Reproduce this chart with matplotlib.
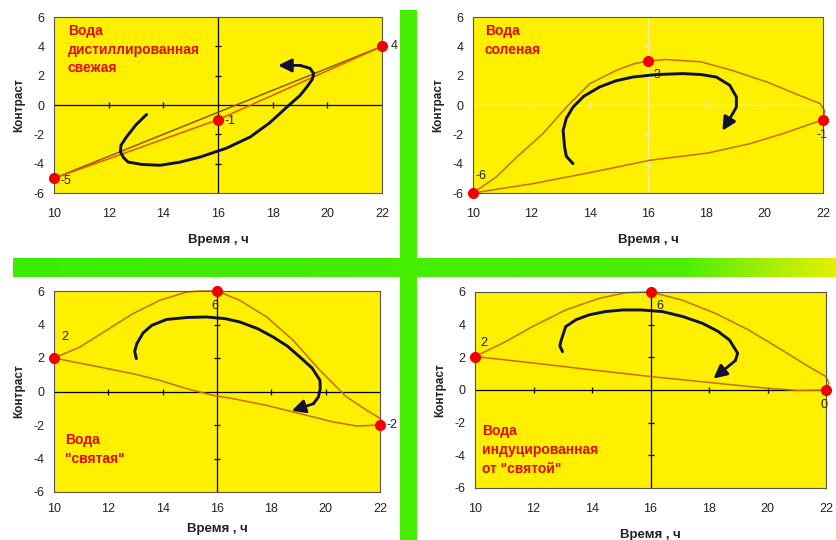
import numpy as np
import matplotlib
matplotlib.use("Agg")
import matplotlib.pyplot as plt
from matplotlib.colors import LinearSegmentedColormap

plt.rcParams['font.family'] = ['Liberation Sans', 'DejaVu Sans']

# ---------------- data ----------------
x_ticks = [10, 12, 14, 16, 18, 20, 22]
y_ticks = [-6, -4, -2, 0, 2, 4, 6]
xlabel_text = "Время , ч"
ylabel_text = "Контраст"

# Panel 1: distilled fresh water
p1_title = "Вода\nдистиллированная\nсвежая"
p1_pts_x = [10, 16, 22]
p1_pts_y = [-5, -1, 4]
p1_pts_lab = ["-5", "-1", "4"]
p1_curve_a_x = [10, 16, 22]
p1_curve_a_y = [-5, -1, 4]
p1_curve_b_x = [10, 22]
p1_curve_b_y = [-5, 4]
p1_arrow_x = [13.39, 13.0, 12.65, 12.45, 12.43, 12.55, 12.71, 13.2, 13.88, 14.6, 15.34, 16.3,
              17.18, 17.9, 18.52, 19.0, 19.25, 19.45, 19.5, 19.37, 19.0]
p1_arrow_y = [-0.64, -1.35, -2.18, -2.75, -3.2, -3.6, -3.89, -4.05, -4.11, -3.9, -3.55, -2.95,
              -2.18, -1.2, -0.14, 0.65, 1.23, 1.75, 2.14, 2.5, 2.7]
p1_arrow_tip = (18.2, 2.7)

# Panel 2: salted water
p2_title = "Вода\nсоленая"
p2_pts_x = [10, 16, 22]
p2_pts_y = [-6, 3, -1]
p2_pts_lab = ["-6", "3", "-1"]
p2_curve_x = [10, 10.8, 11.5, 12.4, 13.2, 14.0, 14.9, 15.5, 16.0, 16.6, 17.8, 18.9, 20.1, 21.2,
              21.9, 22.06, 22.0, 20.63, 19.49, 18.06, 16.06, 14.11, 12.06, 10]
p2_curve_y = [-6, -4.9, -3.55, -1.95, -0.15, 1.45, 2.35, 2.8, 3.0, 3.1, 2.95, 2.35, 1.55, 0.65,
              0.1, -0.4, -1.0, -1.95, -2.64, -3.27, -3.77, -4.57, -5.36, -6]
p2_arrow_x = [13.43, 13.2, 13.14, 13.09, 13.2, 13.43, 13.8, 14.34, 14.9, 15.49, 16.3, 17.2, 17.8,
              18.34, 18.8, 19.03, 19.03, 18.9]
p2_arrow_y = [-4.0, -3.5, -2.86, -1.73, -0.9, -0.14, 0.6, 1.23, 1.65, 1.91, 2.08, 2.14, 2.08,
              1.91, 1.35, 0.55, -0.14, -0.6]
p2_arrow_tip = (18.55, -1.75)

# Panel 3: "holy" water
p3_title = "Вода\n\"святая\""
p3_pts_x = [10, 16, 22]
p3_pts_y = [2, 6, -2]
p3_pts_lab = ["2", "6", "-2"]
p3_curve_x = [10, 10.95, 11.93, 12.91, 13.89, 14.88, 15.37, 16.0, 16.84, 17.83, 18.81, 19.79,
              20.77, 21.51, 22.0, 22.15, 22.0, 21.14, 20.28, 19.05, 17.83, 16.6, 15.86, 14.88,
              13.89, 12.91, 11.68, 10]
p3_curve_y = [2.0, 2.65, 3.65, 4.65, 5.44, 5.94, 6.0, 6.0, 5.44, 4.45, 3.05, 1.26, -0.33, -1.12,
              -1.6, -1.9, -2.0, -2.06, -1.82, -1.32, -0.83, -0.43, -0.23, 0.17, 0.67, 1.06,
              1.46, 2.0]
p3_arrow_x = [13.03, 12.97, 13.05, 13.28, 13.6, 14.14, 14.9, 15.61, 16.3, 16.84, 17.5, 18.07,
              18.6, 19.05, 19.5, 19.79, 19.8, 19.73, 19.55]
p3_arrow_y = [1.96, 2.4, 2.86, 3.5, 3.95, 4.3, 4.42, 4.45, 4.35, 4.15, 3.75, 3.25, 2.7, 2.06,
              1.4, 0.67, 0.15, -0.33, -0.73]
p3_arrow_tip = (18.75, -1.15)

# Panel 4: water induced from "holy" water
p4_title = "Вода\nиндуцированная\nот \"святой\""
p4_pts_x = [10, 16, 22]
p4_pts_y = [2, 6, 0]
p4_pts_lab = ["2", "6", "0"]
p4_curve_x = [10, 11.05, 11.96, 13.1, 14.24, 15.16, 16.0, 17.07, 18.21, 19.35, 20.49, 21.4,
              21.99, 22.1, 22.0, 21.09, 19.95, 18.24, 16.02, 14.01, 12.05, 10]
p4_curve_y = [2.05, 2.96, 3.88, 4.9, 5.61, 5.96, 6.0, 5.51, 4.7, 3.68, 2.45, 1.44, 0.83, 0.42,
              0.0, -0.03, 0.11, 0.42, 0.82, 1.23, 1.64, 2.05]
p4_arrow_x = [12.99, 12.9, 12.95, 13.1, 13.45, 13.9, 14.45, 15.04, 15.7, 16.41, 17.1, 17.78,
              18.3, 18.7, 18.98, 18.9]
p4_arrow_y = [2.35, 2.7, 3.06, 3.88, 4.3, 4.6, 4.8, 4.9, 4.9, 4.8, 4.5, 4.08, 3.6, 3.06, 2.25,
              1.8]
p4_arrow_tip = (18.15, 0.7)

# ---------------- style ----------------
YELLOW = '#FFF000'
CURVE = '#C86E00'
CURVE_DARK = '#8A5A00'
POINT = '#F00000'
ARROW = '#101030'
TITLE_RED = '#E00A00'

fig = plt.figure(figsize=(8.36, 5.40), dpi=100)
fig.patch.set_facecolor('white')

# background green cross
bg = fig.add_axes([0, 0, 1, 1], zorder=-5)
bg.set_xlim(0, 836)
bg.set_ylim(540, 0)
bg.axis('off')
grad = LinearSegmentedColormap.from_list(
    'g', [(0, '#3CEC00'), (0.82, '#4CEE00'), (0.92, '#A6EE00'), (1.0, '#E2F000')])
bg.imshow(np.linspace(0, 1, 256)[None, :], cmap=grad, aspect='auto',
          extent=(13, 836, 277, 258), zorder=1)
bg.add_patch(plt.Rectangle((400, 10), 17, 530, facecolor='#46EE00', edgecolor='none', zorder=2))


def setup(ax, cross_color='black', tlabel_pad=11, xlabelpad=10):
    ax.set_facecolor(YELLOW)
    ax.set_xlim(10, 22)
    ax.set_ylim(-6, 6)
    ax.set_xticks(x_ticks)
    ax.set_yticks(y_ticks)
    ax.set_xticklabels([str(v) for v in x_ticks])
    ax.set_yticklabels([str(v) for v in y_ticks])
    ax.tick_params(axis='both', length=0, labelsize=9, colors='#222222')
    ax.tick_params(axis='x', pad=tlabel_pad)
    ax.tick_params(axis='y', pad=7)
    for s in ax.spines.values():
        s.set_color('#555555')
        s.set_linewidth(0.8)
    ax.set_xlabel(xlabel_text, fontsize=9.5, fontweight='bold', labelpad=xlabelpad, color='#222222')
    ax.set_ylabel(ylabel_text, fontsize=8.5, fontweight='bold', labelpad=6, color='#222222')
    # crossing axes with small ticks
    ax.axvline(16, color=cross_color, lw=0.9, zorder=1)
    ax.axhline(0, color=cross_color, lw=0.9, zorder=1)
    inner_x = [v for v in x_ticks if v not in (10, 16, 22)]
    inner_y = [v for v in y_ticks if v not in (-6, 0, 6)]
    ax.plot(inner_x, [0] * len(inner_x), ls='none', marker='|', ms=5, mew=0.9,
            color=cross_color, zorder=1)
    ax.plot([16] * len(inner_y), inner_y, ls='none', marker='_', ms=5, mew=0.9,
            color=cross_color, zorder=1)


def arrow(ax, xs, ys, tip):
    ax.plot(xs, ys, color=ARROW, lw=2.1, solid_capstyle='round', solid_joinstyle='round', zorder=4)
    ax.annotate('', xy=tip, xytext=(xs[-1], ys[-1]),
                arrowprops=dict(arrowstyle='-|>', color=ARROW, lw=2.0,
                                mutation_scale=20, shrinkA=0, shrinkB=0), zorder=4)


def points(ax, xs, ys, labs, offsets):
    ax.plot(xs, ys, ls='none', marker='o', ms=7, color=POINT, zorder=5, clip_on=False)
    for x, y, t, (dx, dy) in zip(xs, ys, labs, offsets):
        ax.annotate(t, (x, y), xytext=(dx, dy), textcoords='offset points',
                    fontsize=9, color='#222222', ha='left', va='center',
                    annotation_clip=False, zorder=6)


def title(ax, txt, x, y):
    ax.text(x, y, txt, fontsize=10, fontweight='bold', color=TITLE_RED,
            ha='left', va='top', linespacing=1.45, zorder=6)


# Panel 1
ax1 = fig.add_axes([54 / 836, 1 - 193 / 540, 328 / 836, 176 / 540])
setup(ax1)
ax1.plot(p1_curve_b_x, p1_curve_b_y, color=CURVE_DARK, lw=1.1, zorder=2)
ax1.plot(p1_curve_a_x, p1_curve_a_y, color='#E05A00', lw=1.1, zorder=2)
arrow(ax1, p1_arrow_x, p1_arrow_y, p1_arrow_tip)
points(ax1, p1_pts_x, p1_pts_y, p1_pts_lab, [(5, -2), (5, -1), (6, 0)])
title(ax1, p1_title, 10.5, 5.55)

# Panel 2
ax2 = fig.add_axes([473 / 836, 1 - 193 / 540, 350 / 836, 176 / 540])
setup(ax2, cross_color='#F6F0A0')
ax2.plot(p2_curve_x, p2_curve_y, color=CURVE, lw=1.1, zorder=2, clip_on=False)
arrow(ax2, p2_arrow_x, p2_arrow_y, p2_arrow_tip)
points(ax2, p2_pts_x, p2_pts_y, p2_pts_lab, [(2, 12), (4, -10), (-5, -11)])
title(ax2, p2_title, 10.4, 5.5)

# Panel 3
ax3 = fig.add_axes([54 / 836, 1 - 492 / 540, 326 / 836, 201 / 540])
setup(ax3, tlabel_pad=8, xlabelpad=6)
ax3.plot(p3_curve_x, p3_curve_y, color=CURVE, lw=1.1, zorder=2, clip_on=False)
arrow(ax3, p3_arrow_x, p3_arrow_y, p3_arrow_tip)
points(ax3, p3_pts_x, p3_pts_y, p3_pts_lab, [(5, 15), (-4, -11), (5, 0)])
title(ax3, p3_title, 10.4, -2.5)

# Panel 4
ax4 = fig.add_axes([475 / 836, 1 - 488 / 540, 351 / 836, 196 / 540])
setup(ax4, tlabel_pad=11, xlabelpad=10)
ax4.plot(p4_curve_x, p4_curve_y, color=CURVE, lw=1.1, zorder=2, clip_on=False)
arrow(ax4, p4_arrow_x, p4_arrow_y, p4_arrow_tip)
points(ax4, p4_pts_x, p4_pts_y, p4_pts_lab, [(4, 10), (4, -10), (-4, -11)])
title(ax4, p4_title, 10.25, -2.1)

fig.savefig('out.png', dpi=100, facecolor='white')
